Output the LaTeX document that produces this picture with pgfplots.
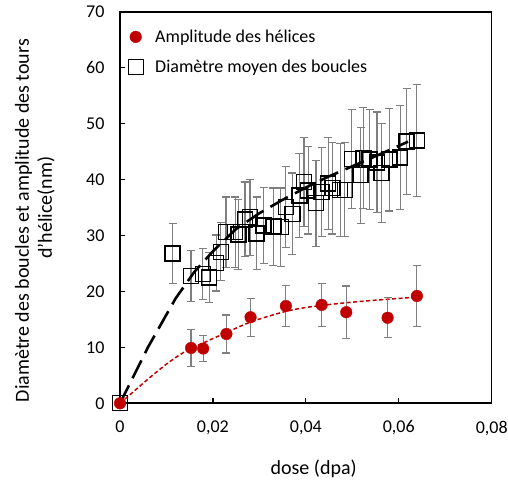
\documentclass[border=0pt]{standalone}
\usepackage{fontspec}
\setmainfont{Carlito}
\usepackage{pgfplots}
\pgfplotsset{compat=1.18}
\usepackage{pgfplotstable}

\definecolor{rouge}{HTML}{C00000}
\definecolor{barre}{HTML}{7F7F7F}

% diametre moyen des boucles : dose, valeur, erreur
\pgfplotstableread{
x y e
0 0 0
0.0113 26.8 5.4
0.0153 22.8 4.6
0.0178 23.1 4.6
0.0192 22.5 4.5
0.0207 25.1 5.0
0.0217 27.1 5.2
0.0228 30.6 6.3
0.0248 30.6 6.3
0.0255 30.2 6.2
0.0269 32.9 6.7
0.0280 33.3 6.8
0.0294 30.4 6.5
0.0309 31.8 6.8
0.0330 31.6 6.9
0.0346 31.5 7.0
0.0357 35.1 7.2
0.0371 33.9 7.3
0.0386 37.2 7.5
0.0396 39.6 8.0
0.0405 38.1 7.8
0.0422 35.8 7.7
0.0434 37.8 8.0
0.0448 39.3 8.2
0.0457 38.5 8.2
0.0474 38.2 8.3
0.0484 38.2 8.4
0.0499 43.7 8.8
0.0518 40.8 8.6
0.0524 43.9 9.0
0.0537 43.6 9.0
0.0553 43.1 9.0
0.0563 41.2 8.8
0.0580 43.6 9.2
0.0603 44.0 9.3
0.0617 46.8 9.5
0.0639 47.0 10.0
}\boucles

% amplitude des helices
\pgfplotstableread{
x y e
0 0 0
0.0153 9.9 3.3
0.0179 9.8 2.3
0.0229 12.4 3.4
0.0281 15.4 3.4
0.0357 17.4 3.7
0.0434 17.6 3.9
0.0487 16.3 4.7
0.0576 15.3 3.6
0.0639 19.2 5.4
}\helices

\newcommand\legfont{\fontsize{18}{21}\selectfont}

\begin{document}
\begin{tikzpicture}
\begin{axis}[
    name=ax,
    scale only axis,
    width=371.7pt, height=391.3pt,
    xmin=0, xmax=0.08,
    ymin=0, ymax=70,
    xtick={0,0.02,0.04,0.06,0.08},
    xticklabels={0,{0,02},{0,04},{0,06},{0,08}},
    ytick={0,10,...,70},
    /pgf/number format/assume math mode=true,
    tick align=inside,
    xtick pos=lower, ytick pos=left,
    major tick length=5pt,
    tick style={black, line width=1.2pt},
    axis line style={line width=1.6pt},
    scaled x ticks=false,
    ticklabel style={font=\fontsize{18}{21}\selectfont},
    xticklabel style={yshift=-14pt},
    yticklabel style={xshift=-12pt},
    xlabel={dose (dpa)},
    xlabel style={font=\fontsize{20}{24}\selectfont, at={(axis description cs:0.521,-0.168)}, anchor=center},
    ylabel={Diamètre des boucles et amplitude des tours\hspace*{26pt}\\d’hélice(nm)},
    ylabel style={font=\fontsize{20}{23}\selectfont, align=center, at={(axis description cs:-0.229,0.5)}, anchor=center},
    clip=false,
    legend style={draw=none, fill=none, at={(axis description cs:0.0135,0.965)}, anchor=north west,
        font=\legfont, nodes={font=\legfont}, row sep=12pt,
        /tikz/every odd column/.append style={column sep=10pt}},
    legend cell align=left,
    legend image code/.code={
        \draw[mark repeat=2, mark phase=2, #1] plot coordinates {(0pt,0pt)(8pt,0pt)(25pt,0pt)};
    },
]

\addlegendimage{only marks, mark=*, mark size=5.8pt, color=rouge}
\addlegendentry{Amplitude des hélices}
\addlegendimage{only marks, mark=square, mark size=7.5pt, black, line width=1.4pt}
\addlegendentry{Diamètre moyen des boucles}

\addplot[forget plot, only marks, mark=square, mark size=7.5pt, black, line width=1.4pt,
    error bars/.cd, y dir=both, y explicit,
    error bar style={barre, line width=1.2pt},
    error mark options={rotate=90, mark size=4pt, barre, line width=1.2pt}]
    table[x=x, y=y, y error=e] {\boucles};

\addplot[forget plot, black, line width=2.6pt, dash pattern=on 20pt off 8pt]
    coordinates {
    (0,0)(0.006,10)(0.012,18.8)(0.016,23.5)(0.020,27.2)(0.025,31.2)(0.030,34.0)
    (0.035,36.4)(0.040,38.6)(0.045,40.6)(0.050,42.4)(0.055,44.2)(0.062,46.8)
    };

\addplot[forget plot, rouge, line width=1.5pt, dash pattern=on 4pt off 2.5pt, smooth]
    coordinates {
    (0,0)(0.0039,2.8)(0.0067,4.8)(0.0103,7.2)(0.0139,9.2)(0.0182,10.9)(0.0225,12.5)
    (0.0283,14.6)(0.0355,16.4)(0.0405,17.2)(0.0488,18.0)(0.0574,18.6)(0.064,19.0)
    };

\addplot[forget plot, only marks, mark=*, mark size=5.8pt, color=rouge,
    error bars/.cd, y dir=both, y explicit,
    error bar style={barre, line width=1.2pt},
    error mark options={rotate=90, mark size=4pt, barre, line width=1.2pt}]
    table[x=x, y=y, y error=e] {\helices};

\end{axis}
\pgfresetboundingbox
\path[use as bounding box] (ax.south west) ++(-120pt,-77.7pt) rectangle ++(508pt,481pt);
\end{tikzpicture}
\end{document}
